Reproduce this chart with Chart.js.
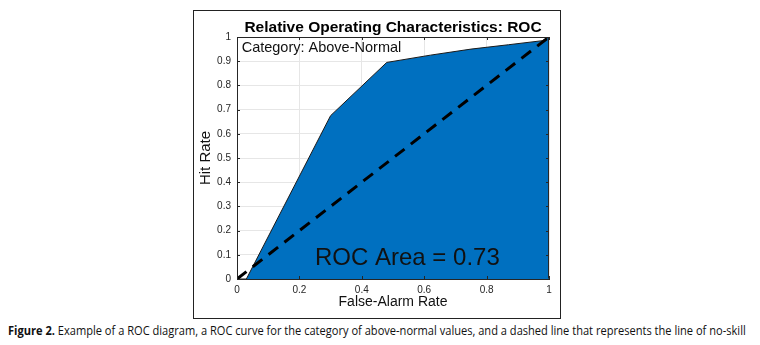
<!DOCTYPE html>
<html>
<head>
<meta charset="utf-8">
<script src="https://cdn.jsdelivr.net/npm/chart.js@4.4.1/dist/chart.umd.min.js"></script>
<style>
  html, body { margin: 0; padding: 0; background: #fff; }
  body { width: 760px; height: 345px; position: relative; overflow: hidden; }
  #frame { position: absolute; left: 193px; top: 10px; width: 366px; height: 307px; border: 1px solid #222; }
  #roc { position: absolute; left: 0; top: 0; }
  #caption { position: absolute; left: 8px; top: 321px; white-space: nowrap; font-family: 'Liberation Sans Narrow', 'Open Sans', sans-serif; font-size: 13px; color: #111; transform-origin: left top; }
  #caption b { font-weight: bold; }
</style>
</head>
<body>
<div id="frame"><canvas id="roc" width="366" height="307"></canvas></div>
<div id="caption"><b>Figure 2.</b> Example of a ROC diagram, a ROC curve for the category of above-normal values, and a dashed line that represents the line of no-skill</div>
<script>
// ROC curve
const falseAlarm = [0, 0.03, 0.30, 0.48, 0.62, 0.75, 0.87, 0.98, 1];
const hitRate = [0, 0, 0.675, 0.895, 0.925, 0.95, 0.968, 0.985, 1];
// no-skill diagonal
const noSkillX = [0, 1];
const noSkillY = [0, 1];
const xTicks = [0, 0.2, 0.4, 0.6, 0.8, 1];
const yTicks = [0, 0.1, 0.2, 0.3, 0.4, 0.5, 0.6, 0.7, 0.8, 0.9, 1];

const AXIS = '#262626';
const FONT = "'Liberation Sans', Arial, sans-serif";

const toPts = (xs, ys) => xs.map((x, i) => ({ x, y: ys[i] }));
const tickLabel = v => String(Number(v.toFixed(1)));

// box, inward ticks, title and text annotations (MATLAB style)
const decor = {
  id: 'decor',
  afterDatasetsDraw(chart) {
    const { ctx, chartArea: a, scales: { x, y } } = chart;
    ctx.save();
    ctx.strokeStyle = AXIS;
    ctx.lineWidth = 1;
    ctx.beginPath();
    ctx.moveTo(a.left + 0.5, a.top + 0.5);
    ctx.lineTo(a.right - 0.5, a.top + 0.5);
    ctx.lineTo(a.right - 0.5, a.bottom - 0.5);
    ctx.stroke();
    ctx.beginPath();
    for (const t of xTicks) {
      const px = Math.round(x.getPixelForValue(t)) + 0.5;
      ctx.moveTo(px, a.bottom); ctx.lineTo(px, a.bottom - 3);
      ctx.moveTo(px, a.top); ctx.lineTo(px, a.top + 3);
    }
    for (const t of yTicks) {
      const py = Math.round(y.getPixelForValue(t)) + 0.5;
      ctx.moveTo(a.left, py); ctx.lineTo(a.left + 3, py);
      ctx.moveTo(a.right, py); ctx.lineTo(a.right - 3, py);
    }
    ctx.stroke();

    ctx.fillStyle = '#000';
    ctx.textAlign = 'center';
    ctx.textBaseline = 'alphabetic';
    ctx.font = `bold 15.5px ${FONT}`;
    ctx.fillText('Relative Operating Characteristics: ROC', (a.left + a.right) / 2, 21);

    ctx.fillStyle = '#111';
    ctx.textAlign = 'left';
    ctx.font = `14.5px ${FONT}`;
    ctx.fillText('Category: Above-Normal', x.getPixelForValue(0.015), y.getPixelForValue(0.94));
    ctx.font = `24px ${FONT}`;
    ctx.fillText('ROC Area = 0.73', x.getPixelForValue(0.25), y.getPixelForValue(0.058));
    ctx.restore();
  }
};

new Chart(document.getElementById('roc'), {
  type: 'scatter',
  data: {
    datasets: [{
      label: 'No skill',
      data: toPts(noSkillX, noSkillY),
      showLine: true,
      borderColor: '#000',
      borderWidth: 3,
      borderDash: [12, 8],
      pointRadius: 0,
      fill: false,
      order: 0,
    }, {
      label: 'ROC',
      data: toPts(falseAlarm, hitRate),
      showLine: true,
      borderColor: '#1a1a1a',
      borderWidth: 1,
      backgroundColor: 'rgb(0, 112, 192)',
      pointRadius: 0,
      fill: 'origin',
      tension: 0,
      order: 1,
    }]
  },
  options: {
    responsive: false,
    animation: false,
    layout: { padding: { top: 26, right: 11, left: 0, bottom: 0 } },
    plugins: {
      legend: { display: false },
      tooltip: { enabled: false },
      title: { display: false },
    },
    scales: {
      x: {
        type: 'linear', min: 0, max: 1,
        afterBuildTicks: s => { s.ticks = xTicks.map(v => ({ value: v })); },
        afterFit: s => { s.height = 39; },
        ticks: { callback: tickLabel, color: AXIS, padding: 5, maxRotation: 0, font: { family: FONT, size: 10 } },
        grid: { color: '#e6e6e6', drawTicks: false },
        border: { color: AXIS },
        title: { display: true, text: 'False-Alarm Rate', color: '#111', font: { family: FONT, size: 14 }, padding: { top: 0, bottom: 7 } },
      },
      y: {
        type: 'linear', min: 0, max: 1,
        afterBuildTicks: s => { s.ticks = yTicks.map(v => ({ value: v })); },
        afterFit: s => { s.width = 43; },
        ticks: { callback: tickLabel, color: AXIS, padding: 6, font: { family: FONT, size: 10 } },
        grid: { color: '#e6e6e6', drawTicks: false },
        border: { color: AXIS },
        title: { display: true, text: 'Hit Rate', color: '#111', font: { family: FONT, size: 15 }, padding: { top: 3, bottom: 0 } },
      }
    }
  },
  plugins: [decor]
});

// squeeze caption to the reference width
const cap = document.getElementById('caption');
cap.style.transform = `scaleX(${738 / cap.scrollWidth})`;
</script>
</body>
</html>
